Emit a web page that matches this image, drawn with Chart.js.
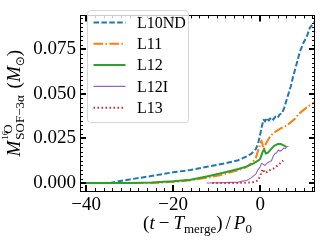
<!DOCTYPE html>
<html><head><meta charset="utf-8">
<script src="https://cdn.jsdelivr.net/npm/chart.js@4/dist/chart.umd.min.js"></script>
<style>html,body{margin:0;padding:0;background:#fff;}canvas{display:block;}</style>
</head><body>
<canvas id="c" width="320" height="240"></canvas>
<script>
const seriesNames = ['L10ND','L11','L12','L12I','L13'];
const seriesColors = ['#1f77b4','#ff7f0e','#2ca02c','#9467bd','#d62728'];

const l10ndT = [-40,-34.5,-33,-30,-25,-20,-16,-12,-8,-5,-3,-2,-1,-0.5,0,0.4,0.8,1.1,1.5,2,2.5,3,3.5,4,4.5,5,5.5,6,6.5,7,7.6,8.4,9.1,10,10.7,11.4,12.2,12.5];
const l10ndM = [0,0,0.0007,0.002,0.0039,0.006,0.0073,0.0092,0.011,0.0128,0.015,0.0165,0.019,0.022,0.027,0.032,0.0355,0.0345,0.0365,0.035,0.0368,0.0355,0.0372,0.0365,0.0385,0.039,0.042,0.046,0.050,0.054,0.060,0.067,0.0735,0.079,0.082,0.087,0.0895,0.0905];

const l11T = [-40,-25,-22,-19,-16,-12,-9,-7,-5,-3.5,-2,-1,-0.5,0,0.3,0.6,0.9,1.3,2,3,4,5,6,7,8,9,10,11,12,12.5];
const l11M = [0,0,0.0003,0.0008,0.0015,0.003,0.0045,0.0058,0.0072,0.0086,0.011,0.014,0.018,0.022,0.0238,0.021,0.019,0.022,0.025,0.028,0.0295,0.031,0.032,0.034,0.036,0.039,0.041,0.043,0.0445,0.0453];

const l12T = [-40,-30,-25,-20,-16,-12,-8,-5,-3,-1.5,-0.5,0,0.5,0.9,1.3,1.8,2.5,3.2,4,4.8,5.5,6];
const l12M = [0,0,0.0003,0.001,0.0018,0.0038,0.006,0.0078,0.0093,0.011,0.0125,0.0135,0.017,0.019,0.0165,0.017,0.019,0.0208,0.0218,0.0218,0.021,0.0203];

const l12iT = [-12.3,-8,-5,-3,-2,-1,-0.5,0,0.3,0.7,1.1,1.5,2,2.6,3,3.4,3.8,4.2,4.6,5,5.4,5.8,6.2,6.5];
const l12iM = [0,0.0002,0.0005,0.0015,0.003,0.005,0.0075,0.009,0.011,0.0105,0.0098,0.011,0.0118,0.0125,0.015,0.0165,0.017,0.0185,0.0178,0.0185,0.0195,0.0192,0.0205,0.0205];

const l13T = [-11,-6,-3,-1.5,-0.5,0,0.3,0.6,0.9,1.3,1.8,2.5,3,3.5,4,4.5,5,5.3];
const l13M = [0,0,0.0002,0.0005,0.0015,0.004,0.006,0.0078,0.0065,0.0055,0.0068,0.0075,0.008,0.0088,0.0098,0.0108,0.012,0.0126];

const xTicks = [-40,-20,0];
const yTicks = [0,0.025,0.05,0.075];
const yTickLabels = ['0.000','0.025','0.050','0.075'];
const xRange = [-41.4,12.6];
const yRange = [-0.0045,0.094];

const FONT = "'Liberation Serif', 'DejaVu Serif', serif";
const dashes = [[5.5,2.4],[9.6,2.4,1.5,2.4],[],[],[1.5,2.5]];
const widths = [2,2,2,1.1,2];

function pts(t,m){ return t.map((v,i)=>({x:v,y:m[i]})); }
const allT = [l10ndT,l11T,l12T,l12iT,l13T];
const allM = [l10ndM,l11M,l12M,l12iM,l13M];

const datasets = seriesNames.map((n,i)=>({
  label:n, data:pts(allT[i],allM[i]), borderColor:seriesColors[i], backgroundColor:seriesColors[i],
  borderWidth:widths[i], borderDash:dashes[i], pointRadius:0, tension:0, fill:false,
  order: seriesNames.length - i, borderCapStyle:'butt', borderJoinStyle:'round'
}));

function drawRich(ctx, pieces, x, y, align){
  // pieces: {t, size, italic, dy, group}
  let total = 0;
  const ws = pieces.map(p=>{ ctx.font = (p.italic?'italic ':'') + p.size + 'px ' + (p.fam||FONT); const w = ctx.measureText(p.t).width; return w; });
  // handle stacked pieces (stack: same x as previous, advance = max)
  let cx = 0; const xs = []; let stackStart = null, stackMax = 0;
  pieces.forEach((p,i)=>{
    if (p.stack) { xs.push(stackStart); stackMax = Math.max(stackMax, ws[i]); cx = stackStart + stackMax; }
    else { xs.push(cx); stackStart = cx; stackMax = ws[i]; cx += ws[i] + (p.after||0); }
  });
  total = cx;
  const ox = align==='center' ? x - total/2 : x;
  ctx.textBaseline = 'alphabetic'; ctx.textAlign = 'left'; ctx.fillStyle = '#000';
  pieces.forEach((p,i)=>{
    ctx.font = (p.italic?'italic ':'') + p.size + 'px ' + (p.fam||FONT);
    ctx.fillText(p.t, ox + xs[i] + (p.dx||0), y + (p.dy||0));
  });
}

const deco = {
  id:'deco',
  afterDatasetsDraw(chart){
    const ctx = chart.ctx, a = chart.chartArea, xs = chart.scales.x, ys = chart.scales.y;
    ctx.save();
    // frame
    ctx.strokeStyle = '#000'; ctx.lineWidth = 1;
    ctx.strokeRect(Math.round(a.left)+0.5, Math.round(a.top)+0.5, Math.round(a.right-a.left)-1, Math.round(a.bottom-a.top));
    // ticks
    function xt(v, len, w){ const p = Math.round(xs.getPixelForValue(v)); ctx.lineWidth=w; ctx.beginPath();
      ctx.moveTo(p+0.5*(w%2), a.bottom); ctx.lineTo(p+0.5*(w%2), a.bottom-len); ctx.moveTo(p+0.5*(w%2), a.top); ctx.lineTo(p+0.5*(w%2), a.top+len); ctx.stroke(); }
    function yt(v, len, w){ const p = Math.round(ys.getPixelForValue(v)); ctx.lineWidth=w; ctx.beginPath();
      ctx.moveTo(a.left, p+0.5*(w%2)); ctx.lineTo(a.left+len, p+0.5*(w%2)); ctx.moveTo(a.right, p+0.5*(w%2)); ctx.lineTo(a.right-len, p+0.5*(w%2)); ctx.stroke(); }
    for (let v=-40; v<=12; v+=2) { if (xTicks.indexOf(v)<0) xt(v,3,1); }
    xTicks.forEach(v=>xt(v,6,2));
    for (let k=-1; k<=37; k++){ const v = k*0.0025; if (v<yRange[0]||v>yRange[1]) continue; if (k%10!==0) yt(v,3,1); }
    yTicks.forEach(v=>yt(v,6,2));
    // legend
    const L = {x:87, y:10, w:101, h:112, r:3};
    ctx.beginPath();
    ctx.moveTo(L.x+L.r+0.5, L.y+0.5); ctx.arcTo(L.x+L.w+0.5, L.y+0.5, L.x+L.w+0.5, L.y+L.h+0.5, L.r);
    ctx.arcTo(L.x+L.w+0.5, L.y+L.h+0.5, L.x+0.5, L.y+L.h+0.5, L.r);
    ctx.arcTo(L.x+0.5, L.y+L.h+0.5, L.x+0.5, L.y+0.5, L.r);
    ctx.arcTo(L.x+0.5, L.y+0.5, L.x+L.w+0.5, L.y+0.5, L.r); ctx.closePath();
    ctx.fillStyle = 'rgba(255,255,255,0.8)'; ctx.fill();
    ctx.strokeStyle = '#d6d6d6'; ctx.lineWidth = 1; ctx.stroke();
    const rowY = [22.5,43.8,65.1,86.4,107.7];
    seriesNames.forEach((n,i)=>{
      const ds = chart.data.datasets[i];
      ctx.strokeStyle = ds.borderColor; ctx.lineWidth = ds.borderWidth; ctx.setLineDash(ds.borderDash); ctx.lineCap='butt';
      ctx.beginPath(); ctx.moveTo(93.5, rowY[i]); ctx.lineTo(125.5, rowY[i]); ctx.stroke();
      ctx.setLineDash([]);
      ctx.fillStyle = '#000'; ctx.font = '16px ' + FONT; ctx.textBaseline = 'middle'; ctx.textAlign='left';
      ctx.fillText(n, 137, rowY[i]+1);
    });
    // x title
    drawRich(ctx, [
      {t:'(', size:19}, {t:'t', size:19, italic:true, after:4}, {t:'\u2212', size:19, after:4},
      {t:'T', size:19, italic:true}, {t:'merge', size:13, dy:4}, {t:')', size:19, after:3}, {t:'/', size:19, after:3},
      {t:'P', size:19, italic:true}, {t:'0', size:13, dy:4}
    ], (a.left+a.right)/2, 229, 'center');
    // y title
    ctx.save();
    ctx.translate(19.5, (a.top+a.bottom)/2);
    ctx.rotate(-Math.PI/2);
    drawRich(ctx, [
      {t:'M', size:19, italic:true, after:1},
      {t:'SOF\u22123\u03b1', size:13, dy:4},
      {t:'O', size:13, dy:-8, stack:true, dx:6},
      {t:'16', size:9, dy:-12, stack:true},
      {t:' ', size:19, after:2},
      {t:'(', size:19}, {t:'M', size:19, italic:true}, {t:'\u2299', size:12, dy:4, fam:"'DejaVu Sans', sans-serif"}, {t:')', size:19}
    ], 0, 0, 'center');
    ctx.restore();
    ctx.restore();
  }
};

new Chart(document.getElementById('c'), {
  type:'line',
  data:{datasets},
  options:{
    responsive:false, animation:false, devicePixelRatio:1,
    layout:{padding:{top:4,right:5,left:0,bottom:0}},
    plugins:{legend:{display:false}, tooltip:{enabled:false}},
    scales:{
      x:{type:'linear', min:xRange[0], max:xRange[1],
         grid:{display:false, drawTicks:false}, border:{display:false},
         afterFit(s){ s.height = 49; },
         afterBuildTicks(s){ s.ticks = xTicks.map(v=>({value:v})); },
         ticks:{padding:3, color:'#000', font:{family:FONT, size:19}, maxRotation:0,
                callback:(v)=> String(v).replace('-','\u2212')}},
      y:{type:'linear', min:yRange[0], max:yRange[1],
         grid:{display:false, drawTicks:false}, border:{display:false},
         afterFit(s){ s.width = 80; },
         afterBuildTicks(s){ s.ticks = yTicks.map(v=>({value:v})); },
         ticks:{padding:4, color:'#000', font:{family:FONT, size:19},
                callback:(v)=> yTickLabels[yTicks.indexOf(v)] }}
    }
  },
  plugins:[deco]
});
</script>
</body></html>
